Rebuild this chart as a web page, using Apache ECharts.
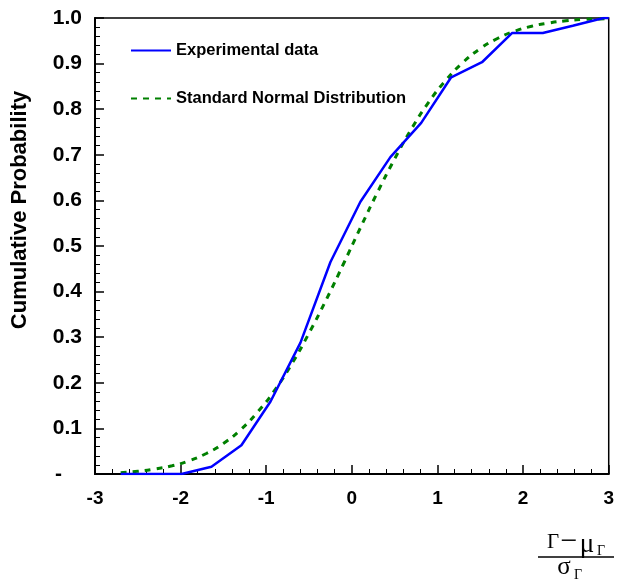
<!DOCTYPE html>
<html><head><meta charset="utf-8">
<script src="https://cdn.jsdelivr.net/npm/echarts@6/dist/echarts.min.js"></script>
<style>html,body{margin:0;padding:0;background:#fff}#c{width:617px;height:581px}</style>
</head><body><div id="c"></div>
<script>
// Experimental data (x, cumulative probability)
const expX = [-2.70,-2.35,-1.99,-1.64,-1.29,-0.95,-0.60,-0.25,0.10,0.45,0.81,1.16,1.52,1.87,2.23,2.58,2.94,3.00];
const expY = [0,0,0,0.016,0.063,0.159,0.288,0.465,0.597,0.695,0.770,0.870,0.903,0.967,0.967,0.983,1.0,1.0];
// Standard normal distribution curve
const normX = [-2.7,-2.5,-2.3,-2.1,-1.9,-1.7,-1.5,-1.3,-1.1,-0.9,-0.7,-0.5,-0.3,-0.1,0.1,0.3,0.5,0.7,0.9,1.1,1.3,1.5,1.7,1.9,2.1,2.3,2.5,2.7,2.9,3.0];
const normY = [0.003,0.006,0.011,0.018,0.029,0.045,0.067,0.097,0.136,0.184,0.242,0.309,0.382,0.460,0.540,0.618,0.691,0.758,0.816,0.864,0.903,0.933,0.955,0.971,0.982,0.989,0.994,0.997,0.998,0.999];
const seriesNames = ['Experimental data','Standard Normal Distribution'];
const yTitle = 'Cumulative Probability';

const chart = echarts.init(document.getElementById('c'), null, {renderer:'canvas'});
const font = '"Liberation Sans", Arial, Helvetica, sans-serif';
const serif = '"Liberation Serif","DejaVu Serif",serif';
function t(text, x, y, size){
  return {type:'text',x:x,y:y,style:{text:text,fontFamily:serif,fontSize:size,fill:'#000',align:'center',verticalAlign:'middle'}};
}
chart.setOption({
  animation:false,
  backgroundColor:'#fff',
  grid:{left:95,right:7,top:18,bottom:107,show:true,borderColor:'#000',borderWidth:1.5,backgroundColor:'transparent'},
  legend:{
    orient:'vertical',left:125,top:37,itemWidth:40,itemHeight:14,itemGap:31,
    itemStyle:{opacity:0},
    textStyle:{fontFamily:font,fontWeight:'bold',fontSize:16.5,color:'#000'},
    data:seriesNames
  },
  xAxis:{
    type:'value',min:-3,max:3,interval:1,
    axisLine:{onZero:false,lineStyle:{color:'#000',width:2}},
    axisTick:{inside:true,length:9,lineStyle:{color:'#000',width:1.5}},
    minorTick:{show:true,splitNumber:5,length:5,lineStyle:{color:'#000',width:1}},
    splitLine:{show:false},
    axisLabel:{margin:15,fontFamily:font,fontWeight:'bold',fontSize:19,color:'#000'}
  },
  yAxis:{
    type:'value',min:0,max:1,interval:0.1,
    axisLine:{onZero:false,lineStyle:{color:'#000',width:2}},
    axisTick:{inside:true,length:9,lineStyle:{color:'#000',width:1.5}},
    minorTick:{show:true,splitNumber:5,length:5,lineStyle:{color:'#000',width:1}},
    splitLine:{show:false},
    axisLabel:{margin:13,fontFamily:font,fontWeight:'bold',fontSize:21,color:'#000',
      formatter:v=> Math.abs(v)<1e-9 ? '{z|-}' : v.toFixed(1),
      rich:{z:{fontFamily:font,fontWeight:'bold',fontSize:21,color:'#000',padding:[0,20,0,0]}}}
  },
  series:[
    {name:seriesNames[0],type:'line',data:expX.map((x,i)=>[x,expY[i]]),symbol:'none',
     lineStyle:{color:'#0000ff',width:2.5},itemStyle:{color:'#0000ff'},z:3},
    {name:seriesNames[1],type:'line',data:normX.map((x,i)=>[x,normY[i]]),symbol:'none',smooth:true,
     lineStyle:{color:'#008000',width:3,type:[6,6]},itemStyle:{color:'#008000'},z:2}
  ],
  graphic:[
    {type:'text',x:20,y:210,rotation:Math.PI/2,style:{text:yTitle,fontFamily:font,fontWeight:'bold',fontSize:22,fill:'#000',align:'center',verticalAlign:'middle'}},
    t('Γ',553,542,21),
    t('−',569,542,30),
    t('μ',587,545,27),
    t('Γ',601,551,14),
    {type:'line',shape:{x1:538,y1:557,x2:614,y2:557},style:{stroke:'#000',lineWidth:1.5}},
    t('σ',564,567,25),
    t('Γ',578,575,14)
  ]
});
</script></body></html>
